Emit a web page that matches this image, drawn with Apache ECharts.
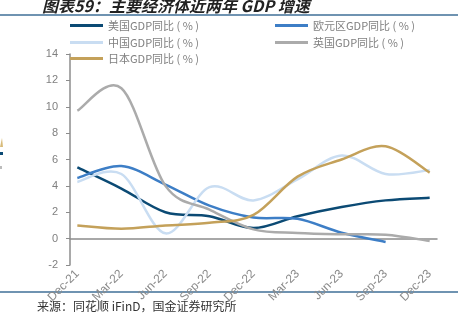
<!DOCTYPE html>
<html>
<head>
<meta charset="utf-8">
<script src="https://cdn.jsdelivr.net/npm/echarts@6/dist/echarts.min.js"></script>
<style>
html,body{margin:0;padding:0;background:#fff;}
#chart{width:471px;height:321px;}
</style>
</head>
<body>
<div id="chart"></div>
<script>
// Monthly categories (data points are quarterly, at Dec/Mar/Jun/Sep)
const months = ['Dec-21','Jan-22','Feb-22','Mar-22','Apr-22','May-22','Jun-22','Jul-22','Aug-22','Sep-22','Oct-22','Nov-22','Dec-22',
  'Jan-23','Feb-23','Mar-23','Apr-23','May-23','Jun-23','Jul-23','Aug-23','Sep-23','Oct-23','Nov-23','Dec-23'];
const seriesNames = ['美国GDP同比 ( % )','欧元区GDP同比 ( % )','中国GDP同比 ( % )','英国GDP同比 ( % )','日本GDP同比 ( % )'];
const usGDP    = [5.4, 3.8, 2.0, 1.7, 0.8, 1.7, 2.4, 2.9, 3.1];
const euroGDP  = [4.6, 5.5, 4.1, 2.5, 1.6, 1.5, 0.45, -0.25];
const chinaGDP = [4.3, 4.9, 0.4, 3.9, 2.9, 4.5, 6.3, 4.9, 5.2];
const ukGDP    = [9.7, 11.4, 4.0, 2.2, 0.7, 0.43, 0.33, 0.3, -0.18];
const japanGDP = [1.0, 0.75, 1.0, 1.2, 1.8, 4.7, 6.0, 7.0, 5.0];
const yTicks = {min: -2, max: 14, interval: 2};

const colors = ['#0b4a74', '#3d7ec6', '#c9ddf2', '#ababab', '#c4a15a'];
const allData = [usGDP, euroGDP, chinaGDP, ukGDP, japanGDP];

// quarterly value k sits on month category index 3k
function toPairs(arr) {
  return arr.map((v, k) => [k * 3, v]);
}

// Excel-like smooth curve (Catmull-Rom -> cubic Bezier) through pixel points
function smoothPathData(pts) {
  let d = 'M' + pts[0][0] + ' ' + pts[0][1];
  for (let i = 0; i < pts.length - 1; i++) {
    const p0 = pts[i - 1] || pts[i], p1 = pts[i], p2 = pts[i + 1], p3 = pts[i + 2] || pts[i + 1];
    const c1x = p1[0] + (p2[0] - p0[0]) / 6, c1y = p1[1] + (p2[1] - p0[1]) / 6;
    const c2x = p2[0] - (p3[0] - p1[0]) / 6, c2y = p2[1] - (p3[1] - p1[1]) / 6;
    d += ' C' + c1x + ' ' + c1y + ' ' + c2x + ' ' + c2y + ' ' + p2[0] + ' ' + p2[1];
  }
  return d;
}

const labelFont = 'Liberation Sans, Arial, "Noto Sans CJK SC", sans-serif';
const axisGray = '#8c8c8c';

const legendPos = [
  {left: 70, top: 20}, {left: 275, top: 20},
  {left: 70, top: 37}, {left: 275, top: 37},
  {left: 70, top: 53}
];

const chart = echarts.init(document.getElementById('chart'));
chart.setOption({
  animation: false,
  backgroundColor: '#fff',
  title: {
    text: '图表59：主要经济体近两年 GDP 增速',
    left: 37, top: -7,
    textStyle: {fontSize: 16, fontWeight: 'bold', fontStyle: 'italic', color: '#222', fontFamily: '"Noto Sans CJK SC", sans-serif'}
  },
  legend: seriesNames.map((n, i) => ({
    data: [n],
    left: legendPos[i].left, top: legendPos[i].top,
    icon: 'rect',
    itemWidth: 33, itemHeight: 3,
    padding: 0,
    textStyle: {fontSize: 11, color: '#808080', fontFamily: '"Noto Sans CJK SC", sans-serif'}
  })),
  grid: {left: 70, right: 34, top: 54, bottom: 56, containLabel: false},
  xAxis: {
    type: 'category',
    data: months,
    boundaryGap: true,
    axisLine: {onZero: true, lineStyle: {color: axisGray, width: 1.5}},
    axisTick: {interval: 2, length: 4, lineStyle: {color: axisGray}},
    axisLabel: {interval: 2, rotate: 45, margin: 7, fontSize: 12, color: '#8a8a8a', fontFamily: labelFont},
    splitLine: {show: false}
  },
  yAxis: {
    type: 'value',
    min: yTicks.min, max: yTicks.max, interval: yTicks.interval,
    axisLine: {show: true, lineStyle: {color: axisGray, width: 1.5}},
    axisTick: {show: true, length: 4, lineStyle: {color: axisGray}},
    axisLabel: {margin: 12, fontSize: 11, color: '#808080', fontFamily: labelFont},
    splitLine: {show: false}
  },
  graphic: [
    {type: 'line', shape: {x1: 0, y1: 15, x2: 458, y2: 15}, style: {stroke: '#3f6f97', lineWidth: 1.5}},
    {type: 'line', shape: {x1: 0, y1: 292, x2: 458, y2: 292}, style: {stroke: '#3f6f97', lineWidth: 1.5}},
    {type: 'text', left: 37, top: 300, style: {text: '来源：同花顺 iFinD，国金证券研究所', fontSize: 12, fill: '#333', fontFamily: '"Noto Sans CJK SC", monospace'}},
    {type: 'polygon', shape: {points: [[0, 147], [2, 138], [3, 147]]}, style: {fill: '#d8bb7a'}},
    {type: 'rect', shape: {x: 0, y: 152, width: 3, height: 3}, style: {fill: '#0b4a74'}},
    {type: 'rect', shape: {x: 0, y: 166, width: 2, height: 3}, style: {fill: '#bcbcbc'}}
  ],
  series: seriesNames.map((n, i) => {
    const pairs = toPairs(allData[i]);
    return {
      name: n,
      type: 'custom',
      data: pairs,
      encode: {x: 0, y: 1},
      itemStyle: {color: colors[i]},
      renderItem: function (params, api) {
        if (params.dataIndex !== 0) return null;
        const pts = pairs.map(p => api.coord(p));
        return {
          type: 'path',
          shape: {pathData: smoothPathData(pts)},
          style: {stroke: colors[i], lineWidth: 2.5, fill: null, lineJoin: 'round', lineCap: 'butt'}
        };
      }
    };
  })
});
</script>
</body>
</html>
